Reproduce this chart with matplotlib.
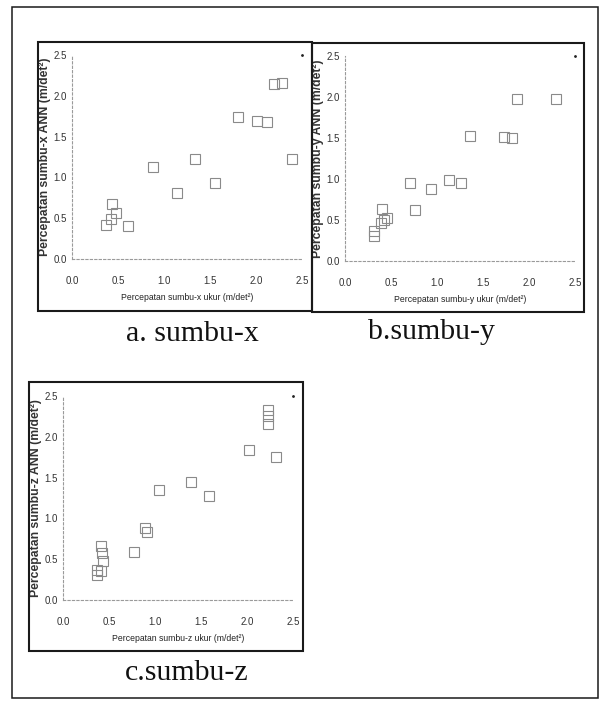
import matplotlib
matplotlib.use("Agg")
import matplotlib.pyplot as plt
from matplotlib.patches import Rectangle

plt.rcParams['font.family'] = ['Liberation Sans', 'DejaVu Sans']

ax_x = [0.37, 0.43, 0.42, 0.48, 0.61, 0.88, 1.14, 1.34, 1.55, 1.80, 2.01, 2.12, 2.20, 2.28, 2.39]
ax_y = [0.42, 0.68, 0.49, 0.56, 0.41, 1.13, 0.81, 1.22, 0.93, 1.74, 1.69, 1.68, 2.15, 2.16, 1.22]

ay_x = [0.31, 0.32, 0.40, 0.39, 0.42, 0.46, 0.71, 0.76, 0.93, 1.13, 1.26, 1.36, 1.73, 1.82, 1.87, 2.29]
ay_y = [0.31, 0.37, 0.64, 0.46, 0.50, 0.53, 0.95, 0.62, 0.88, 0.99, 0.95, 1.52, 1.51, 1.50, 1.97, 1.97]

az_x = [0.37, 0.41, 0.37, 0.44, 0.42, 0.41, 0.77, 0.89, 0.91, 1.04, 1.39, 1.59, 2.02, 2.23, 2.23, 2.23, 2.32]
az_y = [0.37, 0.35, 0.31, 0.48, 0.57, 0.66, 0.59, 0.88, 0.83, 1.35, 1.44, 1.28, 1.84, 2.33, 2.25, 2.16, 1.75]

tick_vals = [0.0, 0.5, 1.0, 1.5, 2.0, 2.5]
tick_labels = ["0.0", "0.5", "1.0", "1.5", "2.0", "2.5"]

panel_names = ["x", "y", "z"]
captions = ["a. sumbu-x", "b.sumbu-y", "c.sumbu-z"]

W, H = 602, 706
fig = plt.figure(figsize=(W / 100, H / 100), dpi=100)
fig.patch.set_facecolor("white")


def rect(l, t, r, b):
    # pixel box -> figure fraction
    return [l / W, 1 - b / H, (r - l) / W, (b - t) / H]


def frame(l, t, r, b, lw):
    fig.patches.append(Rectangle((l / W, 1 - b / H), (r - l) / W, (b - t) / H,
                                 transform=fig.transFigure, fill=False,
                                 edgecolor="#1a1a1a", linewidth=lw))


# outer frame and panel frames
frame(12, 7, 598, 698, 1.1)
frame(38, 42, 312, 311, 1.5)
frame(312, 43, 584, 312, 1.5)
frame(29, 382, 303, 651, 1.5)

axes_boxes = [(72, 55, 302, 259), (345, 56, 575, 261), (63, 396, 293, 600)]
series = [(ax_x, ax_y), (ay_x, ay_y), (az_x, az_y)]

for box, (xs, ys), name in zip(axes_boxes, series, panel_names):
    ax = fig.add_axes(rect(*box))
    ax.set_facecolor("none")
    ax.plot(xs, ys, linestyle="none", marker="s", markersize=6.5,
            markerfacecolor="none", markeredgecolor="#8a8a8a",
            markeredgewidth=0.8, clip_on=False)
    ax.plot(2.5, 2.5, marker=".", markersize=2, color="#222", clip_on=False)
    ax.set_xlim(0, 2.5)
    ax.set_ylim(0, 2.5)
    for s in ["top", "right"]:
        ax.spines[s].set_visible(False)
    for s in ["left", "bottom"]:
        ax.spines[s].set_color("#9a9a9a")
        ax.spines[s].set_linestyle((0, (2, 2)))
        ax.spines[s].set_linewidth(0.8)
    ax.set_xticks(tick_vals)
    ax.set_xticklabels(tick_labels)
    ax.set_yticks(tick_vals)
    ax.set_yticklabels(tick_labels)
    ax.tick_params(axis="x", length=0, pad=12, labelsize=7, labelcolor="#333")
    ax.tick_params(axis="y", length=0, pad=3.5, labelsize=7, labelcolor="#333")
    ax.set_xlabel(f"Percepatan sumbu-{name} ukur (m/det²)", fontsize=6.2, color="#222",
                  va="center")
    ax.xaxis.set_label_coords(0.5, -0.19)
    ax.set_ylabel(f"Percepatan sumbu-{name} ANN (m/det²)", fontsize=8.8,
                  fontweight="bold", color="#333", va="center")
    ax.yaxis.set_label_coords(-0.118, 0.5)

caption_pos = [(192, 334), (432, 332), (187, 673)]
for (cx, cy), txt in zip(caption_pos, captions):
    fig.text(cx / W, 1 - cy / H, txt, ha="center", va="center",
             fontsize=21.5, family="Liberation Serif", color="#111")

fig.savefig("out.png", dpi=100)
